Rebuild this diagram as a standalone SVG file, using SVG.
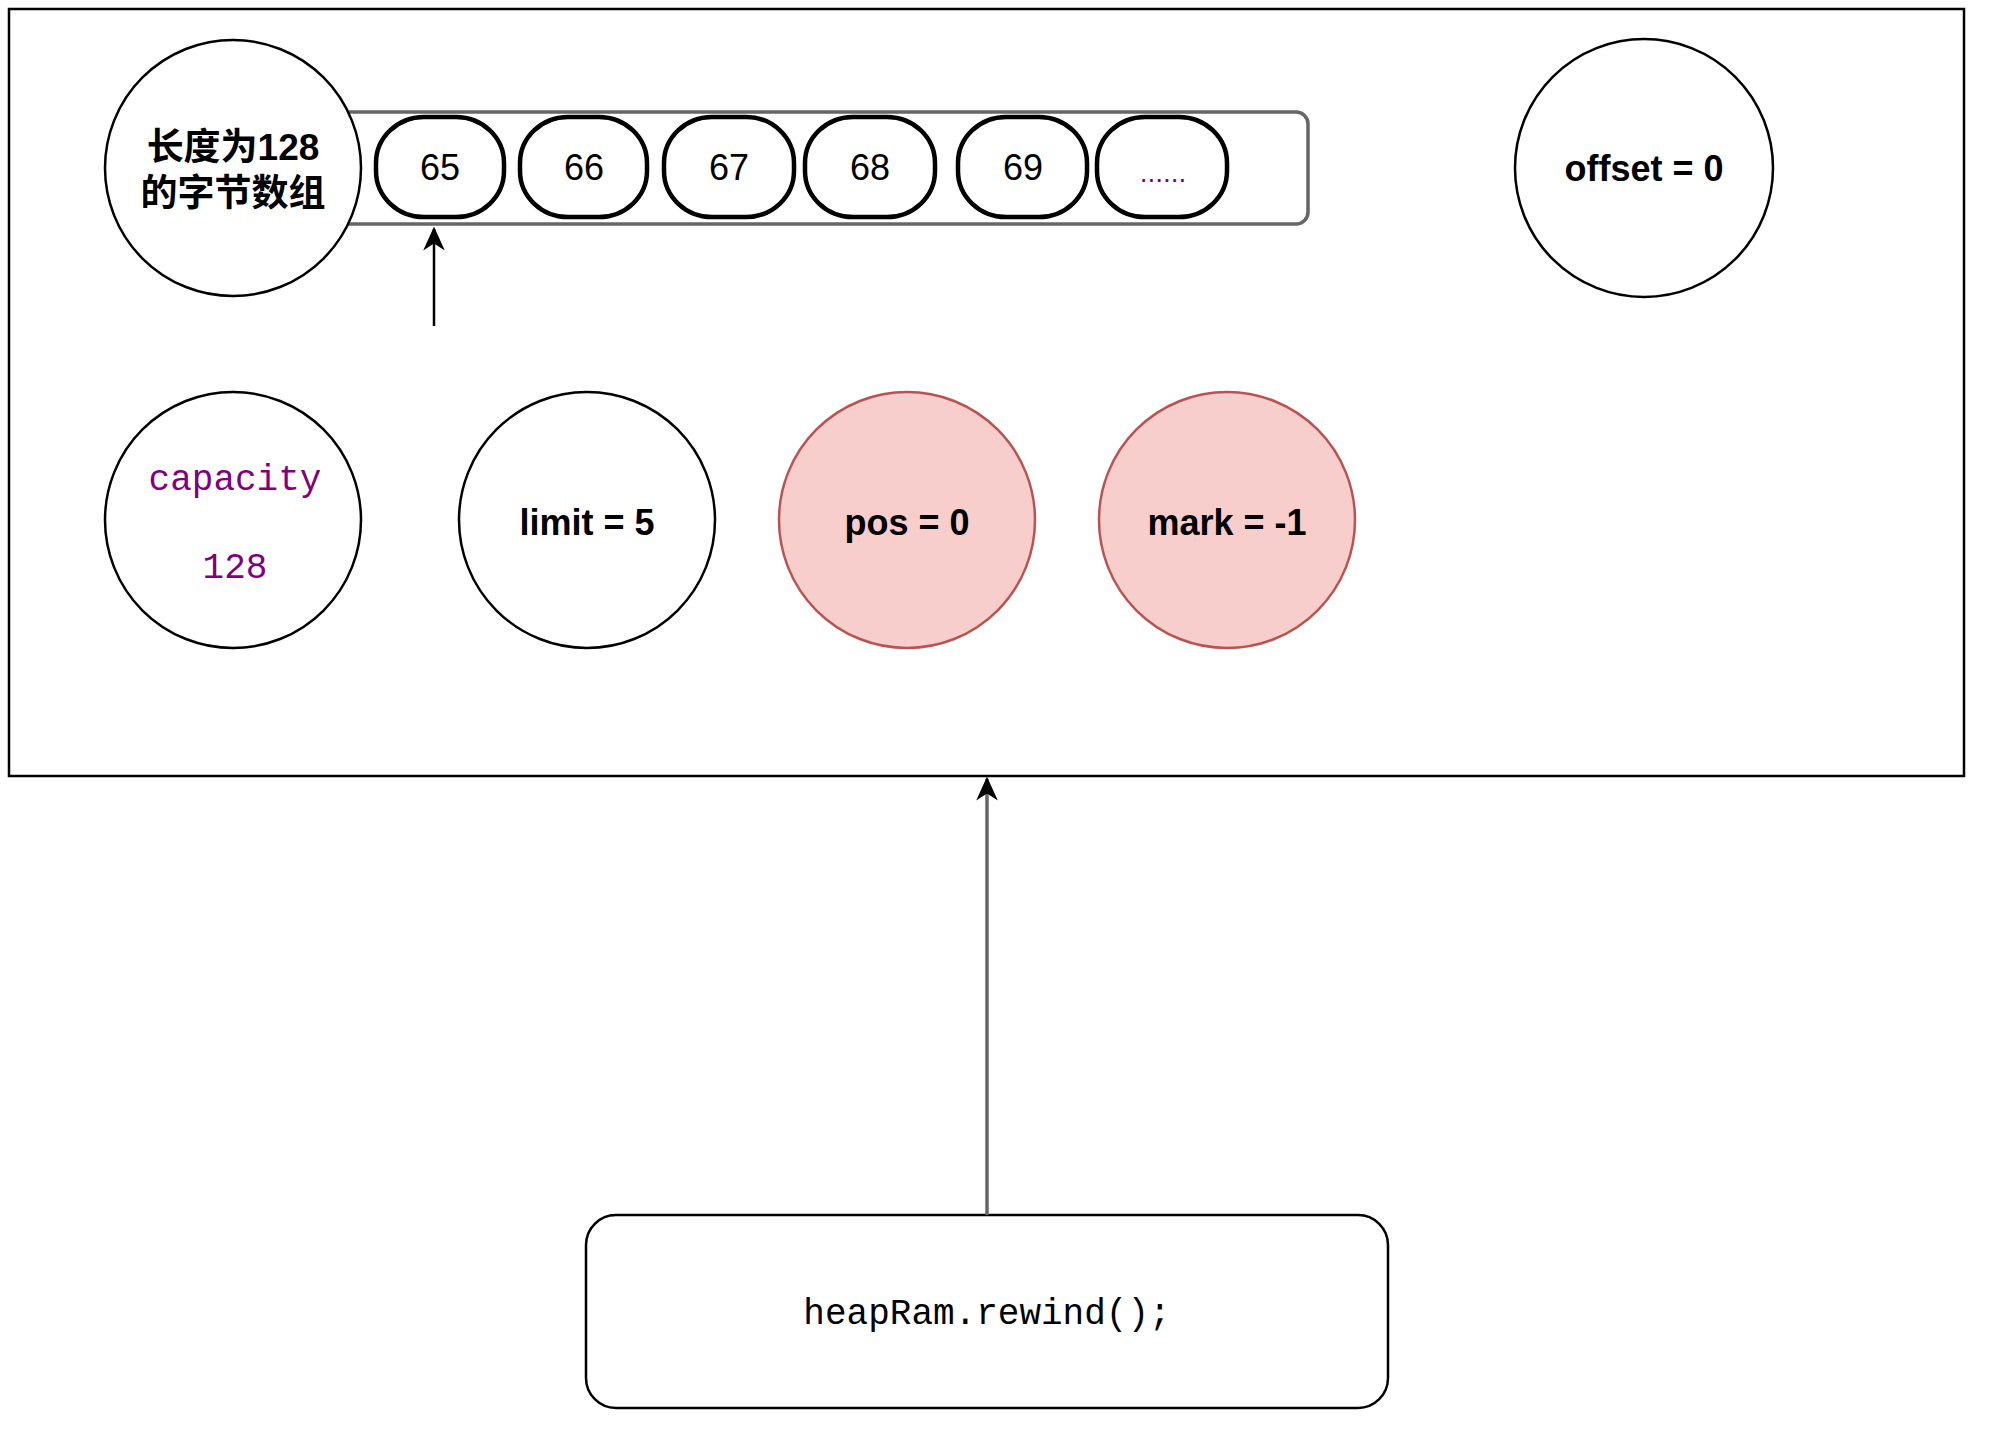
<svg xmlns="http://www.w3.org/2000/svg" width="2000" height="1439" viewBox="0 0 2000 1439">
<defs>
<style>
.circ{fill:#ffffff;stroke:#000000;stroke-width:2.5}
.red{fill:#f8cecc;stroke:#b85450;stroke-width:2.5}
.item{fill:#ffffff;stroke:#000000;stroke-width:4.5}
.num{font-family:"Liberation Sans",Arial,sans-serif;font-size:36px;fill:#000000;text-anchor:middle}
.bold{font-family:"Liberation Sans",Arial,sans-serif;font-size:36px;font-weight:bold;fill:#000000;text-anchor:middle}
.mono{font-family:"Liberation Mono","Courier New",monospace;font-size:36px;text-anchor:middle}
.cjk{font-family:"Liberation Sans","Noto Sans CJK SC",sans-serif;font-size:37px;font-weight:bold;fill:#000000;text-anchor:middle}
</style>
<marker id="arrow2" viewBox="0 0 10 10" refX="9" refY="5" markerWidth="24" markerHeight="24" markerUnits="userSpaceOnUse" orient="auto">
<path d="M0,0.5 L10,5 L0,9.5 L3,5 Z" fill="#000000"/>
</marker>
</defs>
<rect width="2000" height="1439" fill="#ffffff"/>
<g id="container">
<rect x="9" y="9" width="1955" height="767" fill="#ffffff" stroke="#000000" stroke-width="2.5"/>
</g>
<g id="array-bar">
<rect x="320" y="112" width="988" height="112" rx="12" ry="12" fill="#ffffff" stroke="#666666" stroke-width="3.5"/>
</g>
<g id="array-label">
<circle cx="233" cy="168" r="128" class="circ"/>
<text class="cjk" x="233" y="160">长度为128</text>
<text class="cjk" x="233" y="206">的字节数组</text>
</g>
<g id="item-65">
<rect x="376" y="117" width="128" height="100" rx="48" ry="46" class="item"/>
<text class="num" x="440" y="180">65</text>
</g>
<g id="item-66">
<rect x="520" y="117" width="127" height="100" rx="48" ry="46" class="item"/>
<text class="num" x="584" y="180">66</text>
</g>
<g id="item-67">
<rect x="664" y="117" width="130" height="100" rx="48" ry="46" class="item"/>
<text class="num" x="729" y="180">67</text>
</g>
<g id="item-68">
<rect x="805" y="117" width="130" height="100" rx="48" ry="46" class="item"/>
<text class="num" x="870" y="180">68</text>
</g>
<g id="item-69">
<rect x="958" y="117" width="129" height="100" rx="48" ry="46" class="item"/>
<text class="num" x="1023" y="180">69</text>
</g>
<g id="item-more">
<rect x="1097" y="117" width="130" height="100" rx="48" ry="46" class="item"/>
<text x="1163" y="182" style="font-family:'Liberation Sans',Arial,sans-serif;font-size:28px;fill:#800080;text-anchor:middle">......</text>
</g>
<g id="offset">
<circle cx="1644" cy="168" r="129" class="circ"/>
<text class="bold" x="1644" y="181">offset = 0</text>
</g>
<g id="capacity">
<circle cx="233" cy="520" r="128" class="circ"/>
<text class="mono" x="235" y="490" fill="#800080">capacity</text>
<text class="mono" x="235" y="578" fill="#800080">128</text>
</g>
<g id="limit">
<circle cx="587" cy="520" r="128" class="circ"/>
<text class="bold" x="587" y="535">limit = 5</text>
</g>
<g id="pos">
<circle cx="907" cy="520" r="128" class="red"/>
<text class="bold" x="907" y="535">pos = 0</text>
</g>
<g id="mark">
<circle cx="1227" cy="520" r="128" class="red"/>
<text class="bold" x="1227" y="535">mark = -1</text>
</g>
<g id="call">
<rect x="586" y="1215" width="802" height="193" rx="30" ry="30" fill="#ffffff" stroke="#000000" stroke-width="2.5"/>
<text class="mono" x="987" y="1324" fill="#000000">heapRam.rewind();</text>
</g>
<g id="connectors">
<line x1="434" y1="326" x2="434" y2="229" stroke="#000000" stroke-width="2.5" marker-end="url(#arrow2)"/>
<line x1="987" y1="1215" x2="987" y2="779" stroke="#666666" stroke-width="3.5" marker-end="url(#arrow2)"/>
</g>
</svg>
